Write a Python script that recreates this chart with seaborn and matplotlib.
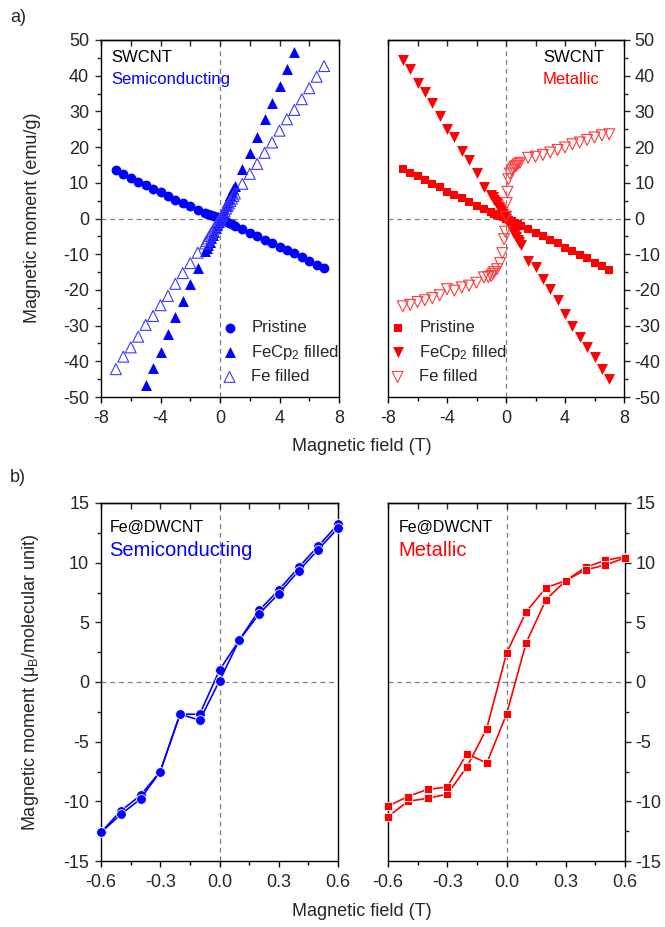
import numpy as np
import pandas as pd
import matplotlib
matplotlib.use("Agg")
import matplotlib.pyplot as plt
from matplotlib.ticker import MultipleLocator
import seaborn as sns

# ---------------- data ----------------
# (a) SWCNT semiconducting
semi_pristine_x = [-7, -6.5, -6, -5.5, -5, -4.5, -4, -3.5, -3, -2.5, -2, -1.5, -1, -0.8, -0.6, -0.4, -0.2, 0,
                   0.2, 0.4, 0.6, 0.8, 1, 1.5, 2, 2.5, 3, 3.5, 4, 4.5, 5, 5.5, 6, 6.5, 7]
semi_pristine_y = [13.6, 12.5, 11.4, 10.3, 9.3, 8.4, 7.3, 6.4, 5.3, 4.4, 3.4, 2.5, 1.6, 1.3, 1.0, 0.7, 0.4, 0.0,
                   -0.4, -0.8, -1.2, -1.6, -2.0, -3.0, -4.0, -4.9, -5.9, -6.8, -7.9, -8.8, -9.7, -10.7, -11.9, -13.0, -13.9]

semi_fecp2_x = [-5, -4.5, -4, -3.5, -3, -2.5, -2, -1.5, -1, -0.9, -0.8, -0.7, -0.6, -0.5, -0.4, -0.3, -0.2, -0.1, 0,
                0.1, 0.2, 0.3, 0.4, 0.5, 0.6, 0.7, 0.8, 0.9, 1, 1.5, 2, 2.5, 3, 3.5, 4, 4.5, 5]
semi_fecp2_y = [-46.6, -42.0, -37.3, -32.4, -27.7, -23.0, -18.4, -14.0, -9.2, -8.3, -7.4, -6.5, -5.6, -4.6, -3.7, -2.8, -1.9, -0.9, 0.0,
                0.9, 1.9, 2.8, 3.7, 4.6, 5.6, 6.5, 7.4, 8.3, 9.1, 13.8, 18.3, 22.9, 27.8, 32.4, 37.1, 42.0, 46.5]

semi_fe_x = [-7, -6.5, -6, -5.5, -5, -4.5, -4, -3.5, -3, -2.5, -2, -1.5, -1, -0.9, -0.8, -0.7, -0.6, -0.5, -0.4, -0.3, -0.2, -0.1, 0,
             0.1, 0.2, 0.3, 0.4, 0.5, 0.6, 0.7, 0.8, 0.9, 1, 1.5, 2, 2.5, 3, 3.5, 4, 4.5, 5, 5.5, 6, 6.5, 7]
semi_fe_y = [-42.2, -38.7, -36.1, -33.1, -29.8, -27.3, -24.3, -21.7, -18.3, -15.3, -12.5, -9.6, -7.0, -6.3, -5.6, -4.9, -4.2, -3.5, -2.8, -2.1, -1.4, -0.7, 0.0,
             0.7, 1.4, 2.1, 2.8, 3.5, 4.2, 4.9, 5.6, 6.3, 7.0, 9.7, 12.5, 15.3, 18.4, 21.3, 24.6, 27.8, 30.4, 33.4, 36.5, 39.7, 42.7]

# (a) SWCNT metallic
met_pristine_x = [-7, -6.5, -6, -5.5, -5, -4.5, -4, -3.5, -3, -2.5, -2, -1.5, -1, -0.8, -0.6, -0.4, -0.2, 0,
                  0.2, 0.4, 0.6, 0.8, 1, 1.5, 2, 2.5, 3, 3.5, 4, 4.5, 5, 5.5, 6, 6.5, 7]
met_pristine_y = [14.0, 12.8, 12.0, 10.8, 9.7, 8.7, 7.5, 6.6, 5.7, 4.5, 3.6, 2.6, 1.8, 1.4, 1.1, 0.7, 0.4, 0.0,
                  -0.4, -0.8, -1.2, -1.6, -2.0, -3.0, -4.0, -4.9, -5.9, -7.0, -8.2, -9.1, -10.1, -11.2, -12.4, -13.2, -14.4]

met_fecp2_x = [-7, -6.5, -6, -5.5, -5, -4.5, -4, -3.5, -3, -2.5, -2, -1.5, -1, -0.9, -0.8, -0.7, -0.6, -0.5, -0.4, -0.3, -0.2, -0.1, 0,
               0.1, 0.2, 0.3, 0.4, 0.5, 0.6, 0.7, 0.8, 0.9, 1, 1.5, 2, 2.5, 3, 3.5, 4, 4.5, 5, 5.5, 6, 6.5, 7]
met_fecp2_y = [44.5, 41.9, 37.9, 35.4, 32.3, 28.7, 25.1, 22.7, 19.0, 16.4, 12.8, 8.9, 6.6, 6.0, 5.3, 4.6, 4.0, 3.3, 2.6, 2.0, 1.3, 0.7, 0.0,
               -0.7, -1.5, -2.2, -3.0, -3.7, -4.4, -5.2, -5.9, -6.7, -7.4, -11.8, -13.7, -17.0, -19.8, -22.8, -26.7, -30.1, -33.1, -35.9, -38.9, -42.2, -45.0]

met_fe_x = [-7, -6.5, -6, -5.5, -5, -4.5, -4, -3.5, -3, -2.5, -2, -1.5, -1.2, -1, -0.9, -0.8, -0.6, -0.4, -0.25, -0.13, -0.05, 0,
            0.05, 0.1, 0.16, 0.27, 0.4, 0.5, 0.6, 0.7, 0.8, 0.95, 1.5, 2, 2.5, 3, 3.5, 4, 4.5, 5, 5.5, 6, 6.5, 7]
met_fe_y = [-24.6, -24.2, -23.4, -22.9, -22.3, -21.5, -19.8, -20.2, -19.3, -18.8, -18.0, -16.5, -16.4, -16.1, -15.5, -15.0, -14.2, -12.5, -9.7, -5.8, -3.7, 0.5,
            4.3, 7.5, 11.0, 12.6, 13.5, 14.0, 14.5, 14.8, 15.2, 15.6, 17.0, 17.3, 17.8, 18.5, 19.2, 19.9, 20.8, 21.3, 22.0, 22.7, 23.3, 23.6]

# (b) Fe@DWCNT loops: field points and two branches
dw_field = [0.6, 0.5, 0.4, 0.3, 0.2, 0.1, 0.0, -0.1, -0.2, -0.3, -0.4, -0.5, -0.6]
dw_semi_down = [13.2, 11.4, 9.6, 7.7, 6.0, 3.5, 1.0, -2.7, -2.7, -7.5, -9.5, -10.8, -12.6]
dw_semi_up = [12.9, 11.1, 9.3, 7.4, 5.7, 3.5, 0.1, -3.2, -2.7, -7.5, -9.8, -11.1, -12.6]
dw_met_down = [10.5, 10.2, 9.6, 8.5, 7.9, 5.9, 2.4, -3.9, -7.1, -9.4, -9.75, -10.0, -11.3]
dw_met_up = [10.4, 9.8, 9.4, 8.5, 6.9, 3.3, -2.7, -6.8, -6.0, -8.8, -9.0, -9.6, -10.4]

series_labels = ["Pristine", "FeCp$_2$ filled", "Fe filled"]
x_ticks_a = [-8, -4, 0, 4, 8]
y_ticks_a = [-50, -40, -30, -20, -10, 0, 10, 20, 30, 40, 50]
x_ticks_b = [-0.6, -0.3, 0.0, 0.3, 0.6]
y_ticks_b = [-15, -10, -5, 0, 5, 10, 15]

# ---------------- style ----------------
sns.set_style("ticks")
plt.rcParams["font.family"] = ["Liberation Sans", "DejaVu Sans"]
plt.rcParams["mathtext.fontset"] = "custom"
plt.rcParams["mathtext.rm"] = "Liberation Sans"
plt.rcParams["mathtext.it"] = "Liberation Sans:italic"
plt.rcParams["axes.linewidth"] = 1.0
plt.rcParams["axes.unicode_minus"] = False

BLUE = "#0000ff"
RED = "#ff0000"
W, H = 665, 927

fig = plt.figure(figsize=(W / 100, H / 100), dpi=100)


def add_ax(l, r, t, b):
    return fig.add_axes([l / W, 1 - b / H, (r - l) / W, (b - t) / H])


ax1 = add_ax(101, 339, 40, 397)
ax2 = add_ax(388, 624, 40, 397)
ax3 = add_ax(101, 338, 503, 861)
ax4 = add_ax(388, 625, 503, 861)

TICKFS = 13


def style_axis(ax, side, xlim, ylim, xt, yt, xminor, yminor, fmt=None):
    ax.set_xlim(*xlim)
    ax.set_ylim(*ylim)
    ax.set_xticks(xt)
    ax.set_yticks(yt)
    ax.xaxis.set_minor_locator(MultipleLocator(xminor))
    ax.yaxis.set_minor_locator(MultipleLocator(yminor))
    for sp in ax.spines.values():
        sp.set_visible(True)
        sp.set_color("black")
        sp.set_linewidth(1.0)
    ax.tick_params(axis="x", which="both", direction="out", bottom=True, top=False,
                   labelsize=TICKFS, color="black", width=1.0, pad=5)
    ax.tick_params(axis="x", which="major", length=4.5)
    ax.tick_params(axis="x", which="minor", length=3)
    if side == "left":
        ax.tick_params(axis="y", which="both", direction="out", left=True, right=False,
                       labelleft=True, labelright=False, labelsize=TICKFS, width=1.0, pad=4)
    else:
        ax.tick_params(axis="y", which="both", direction="out", left=False, right=True,
                       labelleft=False, labelright=True, labelsize=TICKFS, width=1.0, pad=3)
    ax.tick_params(axis="y", which="major", length=4.5)
    ax.tick_params(axis="y", which="minor", length=3)
    if fmt is not None:
        ax.set_xticklabels([fmt.format(v) for v in xt])
    # top: inward ticks at every minor step, no labels
    sec = ax.secondary_xaxis("top")
    sec.set_xticks(np.arange(xlim[0], xlim[1] + 1e-9, xminor))
    sec.tick_params(axis="x", direction="in", length=4, width=1.0, labeltop=False)
    sec.spines["top"].set_linewidth(1.0)
    ax.axvline(0, color="#808080", lw=0.9, ls=(0, (4, 3)), zorder=0)
    ax.axhline(0, color="#808080", lw=0.9, ls=(0, (4, 3)), zorder=0)
    ax.set_xlabel("")
    ax.set_ylabel("")


# ---------------- panel a ----------------
sns.scatterplot(x=semi_pristine_x, y=semi_pristine_y, marker="o", s=50, color=BLUE,
                edgecolor=BLUE, linewidth=0, ax=ax1, label=series_labels[0], zorder=3)
sns.scatterplot(x=semi_fecp2_x, y=semi_fecp2_y, marker="^", s=62, color=BLUE,
                edgecolor=BLUE, linewidth=0, ax=ax1, label=series_labels[1], zorder=3)
sns.scatterplot(x=semi_fe_x, y=semi_fe_y, marker="^", s=62, facecolor="none",
                edgecolor="#3a3aff", linewidth=0.8, ax=ax1, label=series_labels[2], zorder=3)

sns.scatterplot(x=met_pristine_x, y=met_pristine_y, marker="s", s=40, color=RED,
                edgecolor=RED, linewidth=0, ax=ax2, label=series_labels[0], zorder=3)
sns.scatterplot(x=met_fecp2_x, y=met_fecp2_y, marker="v", s=62, color=RED,
                edgecolor=RED, linewidth=0, ax=ax2, label=series_labels[1], zorder=3)
sns.scatterplot(x=met_fe_x, y=met_fe_y, marker="v", s=62, facecolor="none",
                edgecolor="#ff3a3a", linewidth=0.8, ax=ax2, label=series_labels[2], zorder=3)

style_axis(ax1, "left", (-8, 8), (-50, 50), x_ticks_a, y_ticks_a, 2, 5)
style_axis(ax2, "right", (-8, 8), (-50, 50), x_ticks_a, y_ticks_a, 2, 5)

leg_kw = dict(frameon=False, fontsize=12, handlelength=1.0, handletextpad=0.8,
              borderpad=0, borderaxespad=0, labelspacing=0.45, loc="upper left")
ax1.legend(bbox_to_anchor=(0.505, 0.215), **leg_kw)
ax2.legend(bbox_to_anchor=(0.005, 0.215), **leg_kw)

ax1.text(10 / 238, 1 - 17 / 357, "SWCNT", transform=ax1.transAxes, fontsize=12,
         color="black", ha="left", va="center")
ax1.text(10 / 238, 1 - 39 / 357, "Semiconducting", transform=ax1.transAxes, fontsize=12,
         color=BLUE, ha="left", va="center")
ax2.text((543 - 388) / 236, 1 - 17 / 357, "SWCNT", transform=ax2.transAxes, fontsize=12,
         color="black", ha="left", va="center")
ax2.text((543 - 388) / 236, 1 - 39 / 357, "Metallic", transform=ax2.transAxes, fontsize=12,
         color=RED, ha="left", va="center")

# ---------------- panel b ----------------
for branch in (dw_semi_down, dw_semi_up):
    sns.lineplot(x=dw_field, y=branch, sort=False, estimator=None, color=BLUE, lw=1.2,
                 marker="o", markersize=7, markeredgecolor="white", markeredgewidth=0.6,
                 ax=ax3, zorder=3, clip_on=False)
for branch in (dw_met_down, dw_met_up):
    sns.lineplot(x=dw_field, y=branch, sort=False, estimator=None, color=RED, lw=1.2,
                 marker="s", markersize=6, markeredgecolor="white", markeredgewidth=0.6,
                 ax=ax4, zorder=3, clip_on=False)

style_axis(ax3, "left", (-0.6, 0.6), (-15, 15), x_ticks_b, y_ticks_b, 0.15, 2.5, fmt="{:.1f}")
style_axis(ax4, "right", (-0.6, 0.6), (-15, 15), x_ticks_b, y_ticks_b, 0.15, 2.5, fmt="{:.1f}")

ax3.text(9 / 237, 1 - 24 / 358, "Fe@DWCNT", transform=ax3.transAxes, fontsize=11.5,
         color="black", ha="left", va="center")
ax3.text(8 / 237, 1 - 47 / 358, "Semiconducting", transform=ax3.transAxes, fontsize=14.5,
         color=BLUE, ha="left", va="center")
ax4.text(11 / 237, 1 - 24 / 358, "Fe@DWCNT", transform=ax4.transAxes, fontsize=11.5,
         color="black", ha="left", va="center")
ax4.text(10 / 237, 1 - 47 / 358, "Metallic", transform=ax4.transAxes, fontsize=14.5,
         color=RED, ha="left", va="center")

# ---------------- figure labels ----------------
fig.text(10 / W, 1 - 18 / H, "a)", fontsize=13, ha="left", va="center")
fig.text(10 / W, 1 - 478 / H, "b)", fontsize=13, ha="left", va="center")
fig.text(33 / W, 1 - 218 / H, "Magnetic moment (emu/g)", fontsize=13, rotation=90,
         ha="center", va="center")
fig.text(31 / W, 1 - 682 / H, r"Magnetic moment ($\mathregular{\mu_B}$/molecular unit)",
         fontsize=13, rotation=90, ha="center", va="center")
fig.text(362 / W, 1 - 447 / H, "Magnetic field (T)", fontsize=13, ha="center", va="center")
fig.text(362 / W, 1 - 911 / H, "Magnetic field (T)", fontsize=13, ha="center", va="center")

fig.savefig("out.png", dpi=100)
